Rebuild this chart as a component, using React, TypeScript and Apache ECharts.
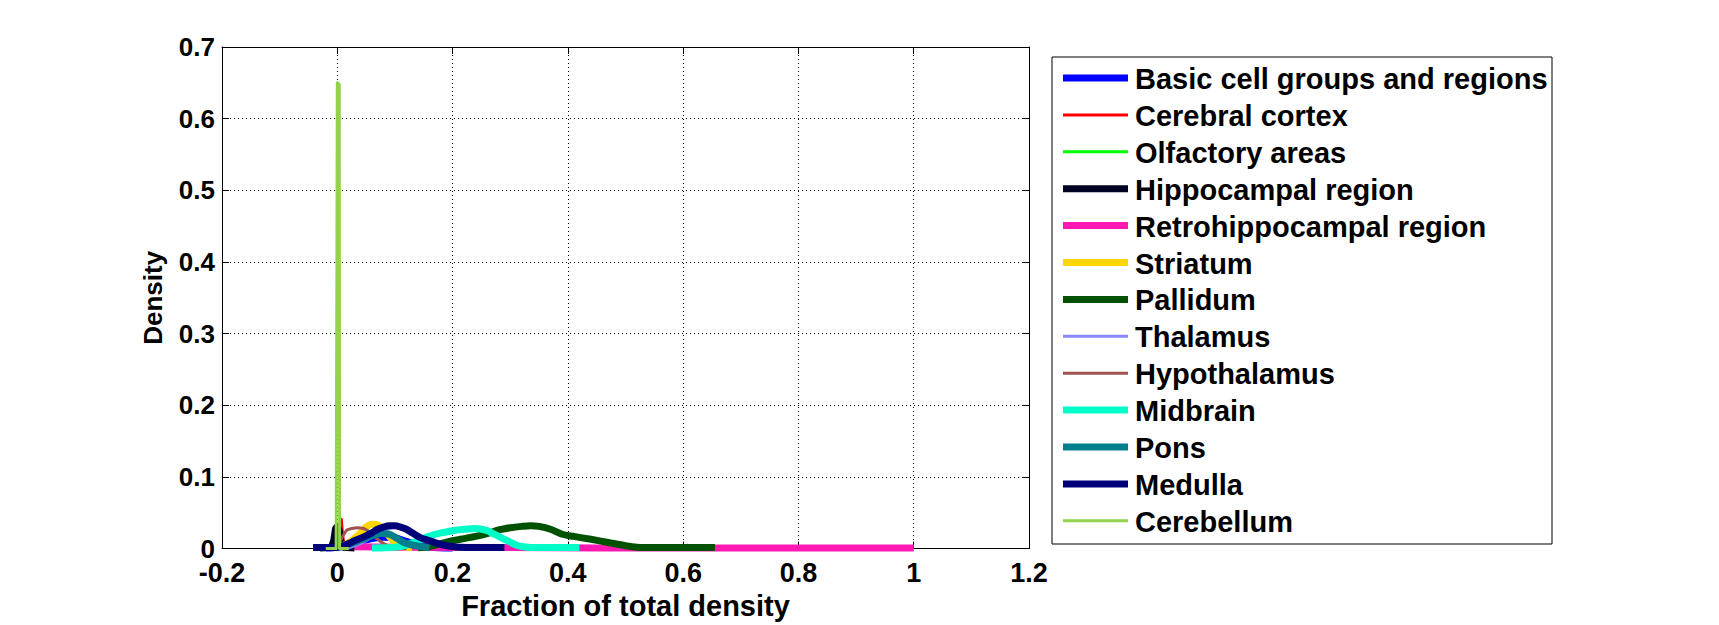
import React, { useEffect, useRef } from "react";
import * as echarts from "echarts";

// Axis ranges / ticks
const X_MIN = -0.2;
const X_MAX = 1.2;
const X_STEP = 0.2;
const Y_MIN = 0;
const Y_MAX = 0.7;
const Y_STEP = 0.1;

const X_LABEL = "Fraction of total density";
const Y_LABEL = "Density";

const seriesNames = [
  "Basic cell groups and regions",
  "Cerebral cortex",
  "Olfactory areas",
  "Hippocampal region",
  "Retrohippocampal region",
  "Striatum",
  "Pallidum",
  "Thalamus",
  "Hypothalamus",
  "Midbrain",
  "Pons",
  "Medulla",
  "Cerebellum",
];

const seriesColors = [
  "#0000FF",
  "#FF0000",
  "#00FF00",
  "#000024",
  "#FF19B3",
  "#FFD600",
  "#005200",
  "#8888FF",
  "#A0524C",
  "#00FFC8",
  "#007F8C",
  "#00007A",
  "#94D24E",
];

const seriesWidths = [7, 3, 3, 7, 7, 7, 7, 3, 3, 7, 7, 7, 3];

// [fraction, density] pairs
const basicCellGroups = [
  [-0.02, 0.001], [0.0, 0.002], [0.02, 0.006], [0.04, 0.01], [0.06, 0.014],
  [0.08, 0.016], [0.1, 0.015], [0.12, 0.01], [0.14, 0.005], [0.16, 0.002], [0.2, 0.001],
];
const cerebralCortex = [
  [-0.01, 0.001], [-0.003, 0.012], [0.0, 0.022], [0.005, 0.038], [0.007, 0.041],
  [0.009, 0.02], [0.012, 0.004], [0.02, 0.001],
];
const olfactoryAreas = [
  [-0.008, 0.001], [-0.002, 0.012], [0.002, 0.012], [0.008, 0.001],
];
const hippocampalRegion = [
  [-0.03, 0.001], [-0.01, 0.002], [-0.006, 0.012], [-0.003, 0.028], [0.0, 0.031],
  [0.003, 0.026], [0.006, 0.01], [0.01, 0.002], [0.03, 0.001],
];
const retrohippocampalRegion = [
  [0.03, 0.0025], [0.1, 0.002], [0.3, 0.0015], [0.45, 0.001], [0.655, 0.001], [1.0, 0.001],
];
const striatum = [
  [0.0, 0.001], [0.02, 0.008], [0.035, 0.018], [0.05, 0.03], [0.06, 0.034],
  [0.07, 0.033], [0.08, 0.026], [0.09, 0.017], [0.1, 0.009], [0.115, 0.003], [0.13, 0.001],
];
const pallidum = [
  [0.14, 0.001], [0.16, 0.003], [0.18, 0.007], [0.2, 0.011], [0.22, 0.014],
  [0.24, 0.017], [0.26, 0.021], [0.28, 0.026], [0.3, 0.029], [0.32, 0.031],
  [0.335, 0.032], [0.35, 0.031], [0.37, 0.027], [0.39, 0.02], [0.41, 0.017],
  [0.44, 0.013], [0.47, 0.0085], [0.5, 0.004], [0.52, 0.002], [0.55, 0.0015], [0.655, 0.0015],
];
const thalamus = [
  [0.015, 0.0], [0.03, 0.004], [0.045, 0.009], [0.06, 0.016], [0.075, 0.023],
  [0.09, 0.028], [0.105, 0.03], [0.12, 0.027], [0.135, 0.021], [0.15, 0.013],
  [0.165, 0.008], [0.18, 0.004], [0.2, 0.001],
];
const hypothalamus = [
  [-0.002, 0.0], [0.004, 0.008], [0.01, 0.018], [0.017, 0.026], [0.025, 0.028],
  [0.035, 0.029], [0.045, 0.028], [0.055, 0.024], [0.065, 0.017], [0.075, 0.01],
  [0.085, 0.005], [0.1, 0.002], [0.12, 0.0],
];
const midbrain = [
  [0.06, 0.001], [0.1, 0.002], [0.12, 0.005], [0.14, 0.011], [0.155, 0.016],
  [0.17, 0.02], [0.18, 0.022], [0.2, 0.025], [0.22, 0.027], [0.24, 0.028],
  [0.26, 0.025], [0.27, 0.021], [0.28, 0.017], [0.29, 0.013], [0.3, 0.009],
  [0.31, 0.005], [0.32, 0.003], [0.34, 0.0015], [0.42, 0.0015],
];
const pons = [
  [0.0, 0.001], [0.02, 0.006], [0.04, 0.012], [0.06, 0.018], [0.075, 0.021],
  [0.09, 0.02], [0.1, 0.016], [0.11, 0.011], [0.12, 0.007], [0.13, 0.005],
  [0.145, 0.003], [0.16, 0.001],
];
const medulla = [
  [-0.042, 0.0015], [-0.02, 0.0015], [0.0, 0.002], [0.01, 0.004], [0.02, 0.007],
  [0.03, 0.011], [0.045, 0.016], [0.06, 0.022], [0.07, 0.027], [0.08, 0.03],
  [0.09, 0.032], [0.1, 0.032], [0.11, 0.03], [0.12, 0.027], [0.13, 0.022],
  [0.145, 0.015], [0.16, 0.011], [0.175, 0.007], [0.19, 0.004], [0.21, 0.002], [0.29, 0.0015],
];
const cerebellum = [
  [-0.02, 0.0], [-0.002, 0.0], [-0.0008, 0.358], [0.0, 0.65], [0.0035, 0.648],
  [0.004, 0.0], [0.02, 0.0],
];

const seriesData = [
  basicCellGroups,
  cerebralCortex,
  olfactoryAreas,
  hippocampalRegion,
  retrohippocampalRegion,
  striatum,
  pallidum,
  thalamus,
  hypothalamus,
  midbrain,
  pons,
  medulla,
  cerebellum,
];
const seriesSmooth = [0.3, 0, 0, 0, 0, 0.3, 0.3, 0.3, 0.3, 0.3, 0.3, 0.3, 0];

const FONT = "'Liberation Sans', Arial, Helvetica, sans-serif";
const fmt = (v: number) => String(parseFloat(v.toFixed(1)));

function buildOption() {
  const legendLeft = 1052;
  const legendTop = 57;
  const legendW = 500;
  const legendH = 487;
  const rowY0 = 78;
  const rowStep = 36.9;

  const legendElements: any[] = [
    {
      type: "rect",
      shape: { x: legendLeft, y: legendTop, width: legendW, height: legendH },
      style: { fill: "#fff", stroke: "#000", lineWidth: 1 },
      z: 100,
    },
  ];
  seriesNames.forEach((name, i) => {
    const y = rowY0 + i * rowStep;
    legendElements.push({
      type: "line",
      shape: { x1: 1063, y1: y, x2: 1128, y2: y },
      style: { stroke: seriesColors[i], lineWidth: seriesWidths[i] },
      z: 101,
    });
    legendElements.push({
      type: "text",
      x: 1135,
      y: y + 1,
      style: {
        text: name,
        fill: "#000",
        font: `bold 29px ${FONT}`,
        verticalAlign: "middle",
        align: "left",
      },
      z: 101,
    });
  });

  const axisText = { color: "#000", fontWeight: "bold", fontFamily: FONT };

  return {
    animation: false,
    backgroundColor: "#fff",
    grid: { left: 222, top: 47, width: 807, height: 504, containLabel: false },
    xAxis: [
      {
        type: "value",
        min: X_MIN,
        max: X_MAX,
        interval: X_STEP,
        position: "bottom",
        name: X_LABEL,
        nameLocation: "middle",
        nameGap: 38,
        nameTextStyle: { ...axisText, fontSize: 29 },
        axisLine: { show: true, onZero: false, lineStyle: { color: "#000", width: 1 } },
        axisTick: { show: true, inside: true, length: 7, lineStyle: { color: "#000" } },
        axisLabel: { ...axisText, fontSize: 27, lineHeight: 20, margin: 14, formatter: fmt },
        splitLine: { show: true, lineStyle: { color: "#000", width: 1, type: [1, 3] } },
      },
      {
        type: "value",
        min: X_MIN,
        max: X_MAX,
        interval: X_STEP,
        position: "top",
        axisLine: { show: true, onZero: false, lineStyle: { color: "#000", width: 1 } },
        axisTick: { show: true, inside: true, length: 7, lineStyle: { color: "#000" } },
        axisLabel: { show: false },
        splitLine: { show: false },
      },
    ],
    yAxis: [
      {
        type: "value",
        min: Y_MIN,
        max: Y_MAX,
        interval: Y_STEP,
        position: "left",
        name: Y_LABEL,
        nameLocation: "middle",
        nameGap: 56,
        nameTextStyle: { ...axisText, fontSize: 26 },
        axisLine: { show: true, onZero: false, lineStyle: { color: "#000", width: 1 } },
        axisTick: { show: true, inside: true, length: 7, lineStyle: { color: "#000" } },
        axisLabel: { ...axisText, fontSize: 26, lineHeight: 18, margin: 7, formatter: fmt },
        splitLine: { show: true, lineStyle: { color: "#000", width: 1, type: [1, 3] } },
      },
      {
        type: "value",
        min: Y_MIN,
        max: Y_MAX,
        interval: Y_STEP,
        position: "right",
        axisLine: { show: true, onZero: false, lineStyle: { color: "#000", width: 1 } },
        axisTick: { show: true, inside: true, length: 7, lineStyle: { color: "#000" } },
        axisLabel: { show: false },
        splitLine: { show: false },
      },
    ],
    series: seriesNames.map((name, i) => ({
      type: "line",
      name,
      xAxisIndex: 0,
      yAxisIndex: 0,
      data: seriesData[i],
      symbol: "none",
      smooth: seriesSmooth[i],
      clip: true,
      silent: true,
      lineStyle: { color: seriesColors[i], width: seriesWidths[i], join: "round" },
      itemStyle: { color: seriesColors[i] },
    })),
    graphic: legendElements,
  };
}

export default function App() {
  const ref = useRef<HTMLDivElement>(null);
  useEffect(() => {
    if (!ref.current) return;
    const chart = echarts.init(ref.current, null, { renderer: "svg" });
    chart.setOption(buildOption() as any);
    return () => chart.dispose();
  }, []);
  return (
    <div
      ref={ref}
      style={{ position: "absolute", left: 0, top: 0, width: 1719, height: 625, background: "#fff" }}
    />
  );
}
